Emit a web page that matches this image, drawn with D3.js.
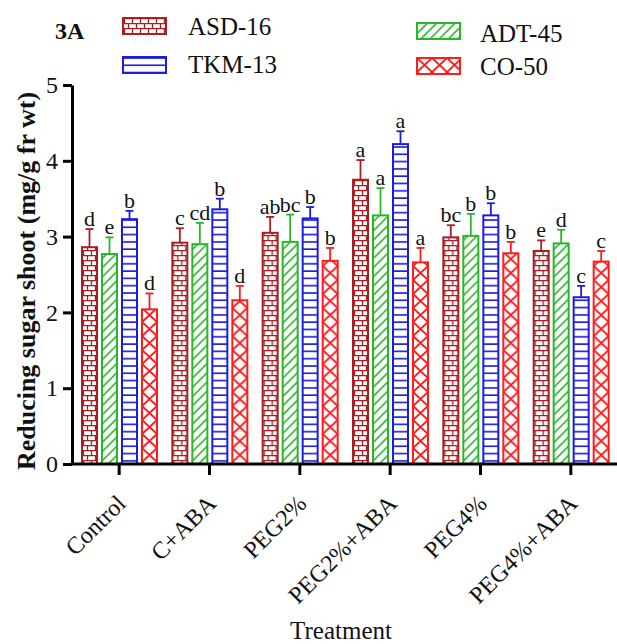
<!DOCTYPE html>
<meta charset="utf-8">
<style>
body { margin: 0; background: #fff; }
svg text { font-family: "Liberation Serif", "Times New Roman", serif; fill: #111; }
</style>
<script src="https://d3js.org/d3.v7.min.js"></script>
<div id="chart"></div>
<script>
// treatments on the x axis and the four cultivars
const treatments = ["Control", "C+ABA", "PEG2%", "PEG2%+ABA", "PEG4%", "PEG4%+ABA"];
const cultivars = ["ASD-16", "ADT-45", "TKM-13", "CO-50"];

// means (mg/g fr wt)
const asd16 = [2.86, 2.92, 3.05, 3.75, 2.99, 2.81];
const adt45 = [2.77, 2.90, 2.93, 3.28, 3.01, 2.91];
const tkm13 = [3.23, 3.36, 3.24, 4.22, 3.28, 2.20];
const co50  = [2.04, 2.16, 2.68, 2.66, 2.78, 2.67];

// error bar sizes
const asd16Err = [0.24, 0.19, 0.21, 0.26, 0.16, 0.14];
const adt45Err = [0.22, 0.28, 0.36, 0.36, 0.29, 0.18];
const tkm13Err = [0.11, 0.14, 0.15, 0.17, 0.16, 0.15];
const co50Err  = [0.21, 0.19, 0.17, 0.19, 0.15, 0.14];

// significance letters
const asd16Sig = ["d", "c", "ab", "a", "bc", "e"];
const adt45Sig = ["e", "cd", "bc", "a", "b", "d"];
const tkm13Sig = ["b", "b", "b", "a", "b", "c"];
const co50Sig  = ["d", "d", "b", "a", "b", "c"];

const yTicks = [0, 1, 2, 3, 4, 5];

const series = [
  {name: "ASD-16", vals: asd16, err: asd16Err, sig: asd16Sig, color: "#a81e22", pat: "brick"},
  {name: "ADT-45", vals: adt45, err: adt45Err, sig: adt45Sig, color: "#27b827", pat: "diag"},
  {name: "TKM-13", vals: tkm13, err: tkm13Err, sig: tkm13Sig, color: "#1c1ce0", pat: "hline"},
  {name: "CO-50",  vals: co50,  err: co50Err,  sig: co50Sig,  color: "#ff1c1c", pat: "cross"}
];

const W = 617, H = 644;
const svg = d3.select("#chart").append("svg")
  .attr("width", W).attr("height", H);

// ---- patterns
const defs = svg.append("defs");
const brick = defs.append("pattern").attr("id", "brick")
  .attr("patternUnits", "userSpaceOnUse").attr("width", 8).attr("height", 10);
brick.append("path")
  .attr("d", "M0,0.6H8M0,5.6H8M1.5,0V5.6M5.5,5.6V10")
  .attr("stroke", series[0].color).attr("stroke-width", 1.3).attr("fill", "none");

const diag = defs.append("pattern").attr("id", "diag")
  .attr("patternUnits", "userSpaceOnUse").attr("width", 6.5).attr("height", 6.5)
  .attr("patternTransform", "rotate(45)");
diag.append("line").attr("x1", 1).attr("x2", 1).attr("y1", 0).attr("y2", 6.5)
  .attr("stroke", series[1].color).attr("stroke-width", 1.6);

const hline = defs.append("pattern").attr("id", "hline")
  .attr("patternUnits", "userSpaceOnUse").attr("width", 8).attr("height", 7.3);
hline.append("line").attr("x1", 0).attr("x2", 8).attr("y1", 1).attr("y2", 1)
  .attr("stroke", series[2].color).attr("stroke-width", 1.6);

const cross = defs.append("pattern").attr("id", "cross")
  .attr("patternUnits", "userSpaceOnUse").attr("width", 15).attr("height", 14);
cross.append("path").attr("d", "M0,0L15,14M15,0L0,14")
  .attr("stroke", series[3].color).attr("stroke-width", 2).attr("fill", "none");

// ---- scales
const x0 = d3.scaleBand().domain(treatments).range([74, 616]);
const x1 = d3.scaleBand().domain(cultivars).range([8, 83]).paddingInner(0.25);
const y = d3.scaleLinear().domain([0, 5]).range([464, 85]);

// ---- bars
series.forEach(function(s) {
  const bw = x1.bandwidth();
  treatments.forEach(function(t, i) {
    const bx = x0(t) + x1(s.name);
    const g = svg.append("g").attr("transform", `translate(${bx},0)`);
    g.append("rect")
      .attr("x", 0).attr("width", bw)
      .attr("y", y(s.vals[i])).attr("height", y(0) - y(s.vals[i]))
      .attr("fill", "white");
    g.append("rect")
      .attr("x", 0).attr("width", bw)
      .attr("y", y(s.vals[i])).attr("height", y(0) - y(s.vals[i]))
      .attr("fill", `url(#${s.pat})`)
      .attr("stroke", s.color).attr("stroke-width", 2);
    // error bar (upper only)
    const top = y(s.vals[i] + s.err[i]);
    g.append("line").attr("x1", bw / 2).attr("x2", bw / 2)
      .attr("y1", y(s.vals[i])).attr("y2", top)
      .attr("stroke", s.color).attr("stroke-width", 1.8);
    g.append("line").attr("x1", bw / 2 - 4).attr("x2", bw / 2 + 4)
      .attr("y1", top).attr("y2", top)
      .attr("stroke", s.color).attr("stroke-width", 1.8);
    g.append("text")
      .attr("x", bw / 2).attr("y", top - 3)
      .attr("text-anchor", "middle")
      .style("font-size", "22px")
      .text(s.sig[i]);
  });
});

// ---- axes
const yAxis = svg.append("g")
  .attr("transform", "translate(72,0)")
  .call(d3.axisLeft(y).tickValues(yTicks).tickFormat(d3.format("d"))
    .tickSize(9).tickSizeOuter(0).tickPadding(5));
yAxis.select(".domain").attr("stroke-width", 3);
yAxis.selectAll(".tick line").attr("stroke-width", 3);
yAxis.selectAll(".tick text").style("font-size", "24px").attr("fill", "#111");

const xAxis = svg.append("g")
  .attr("transform", "translate(0,464)")
  .call(d3.axisBottom(x0).tickSize(11).tickSizeOuter(0));
xAxis.select(".domain").remove();
xAxis.append("line").attr("x1", 70.5).attr("x2", W).attr("y1", 0).attr("y2", 0)
  .attr("stroke", "#000").attr("stroke-width", 3);
xAxis.selectAll(".tick line").attr("stroke-width", 3);
xAxis.selectAll(".tick text")
  .attr("text-anchor", "end")
  .attr("x", 0).attr("y", 0).attr("dy", 0)
  .attr("transform", "translate(8,41) rotate(-45)")
  .style("font-size", "24px").attr("fill", "#111");

// axis titles
svg.append("text")
  .attr("x", 341).attr("y", 639)
  .attr("text-anchor", "middle")
  .style("font-size", "25px")
  .text("Treatment");

svg.append("text")
  .attr("transform", "translate(35,281) rotate(-90)")
  .attr("text-anchor", "middle")
  .style("font-size", "26px").style("font-weight", "bold")
  .text("Reducing sugar shoot (mg/g fr wt)");

svg.append("text")
  .attr("x", 55).attr("y", 39)
  .style("font-size", "24px").style("font-weight", "bold")
  .text("3A");

// ---- legend
const legendPos = [
  {bx: 123, by: 18, tx: 188, ty: 35},
  {bx: 417, by: 23, tx: 480, ty: 42},
  {bx: 123, by: 57, tx: 188, ty: 73},
  {bx: 417, by: 58, tx: 480, ty: 75}
];
series.forEach(function(s, i) {
  const p = legendPos[i];
  const g = svg.append("g").attr("transform", `translate(${p.bx},${p.by})`);
  g.append("rect").attr("width", 43).attr("height", 16).attr("fill", "white");
  g.append("rect").attr("width", 43).attr("height", 16)
    .attr("fill", `url(#${s.pat})`)
    .attr("stroke", s.color).attr("stroke-width", 2);
  svg.append("text").attr("x", p.tx).attr("y", p.ty)
    .style("font-size", "25px")
    .text(s.name);
});
</script>
